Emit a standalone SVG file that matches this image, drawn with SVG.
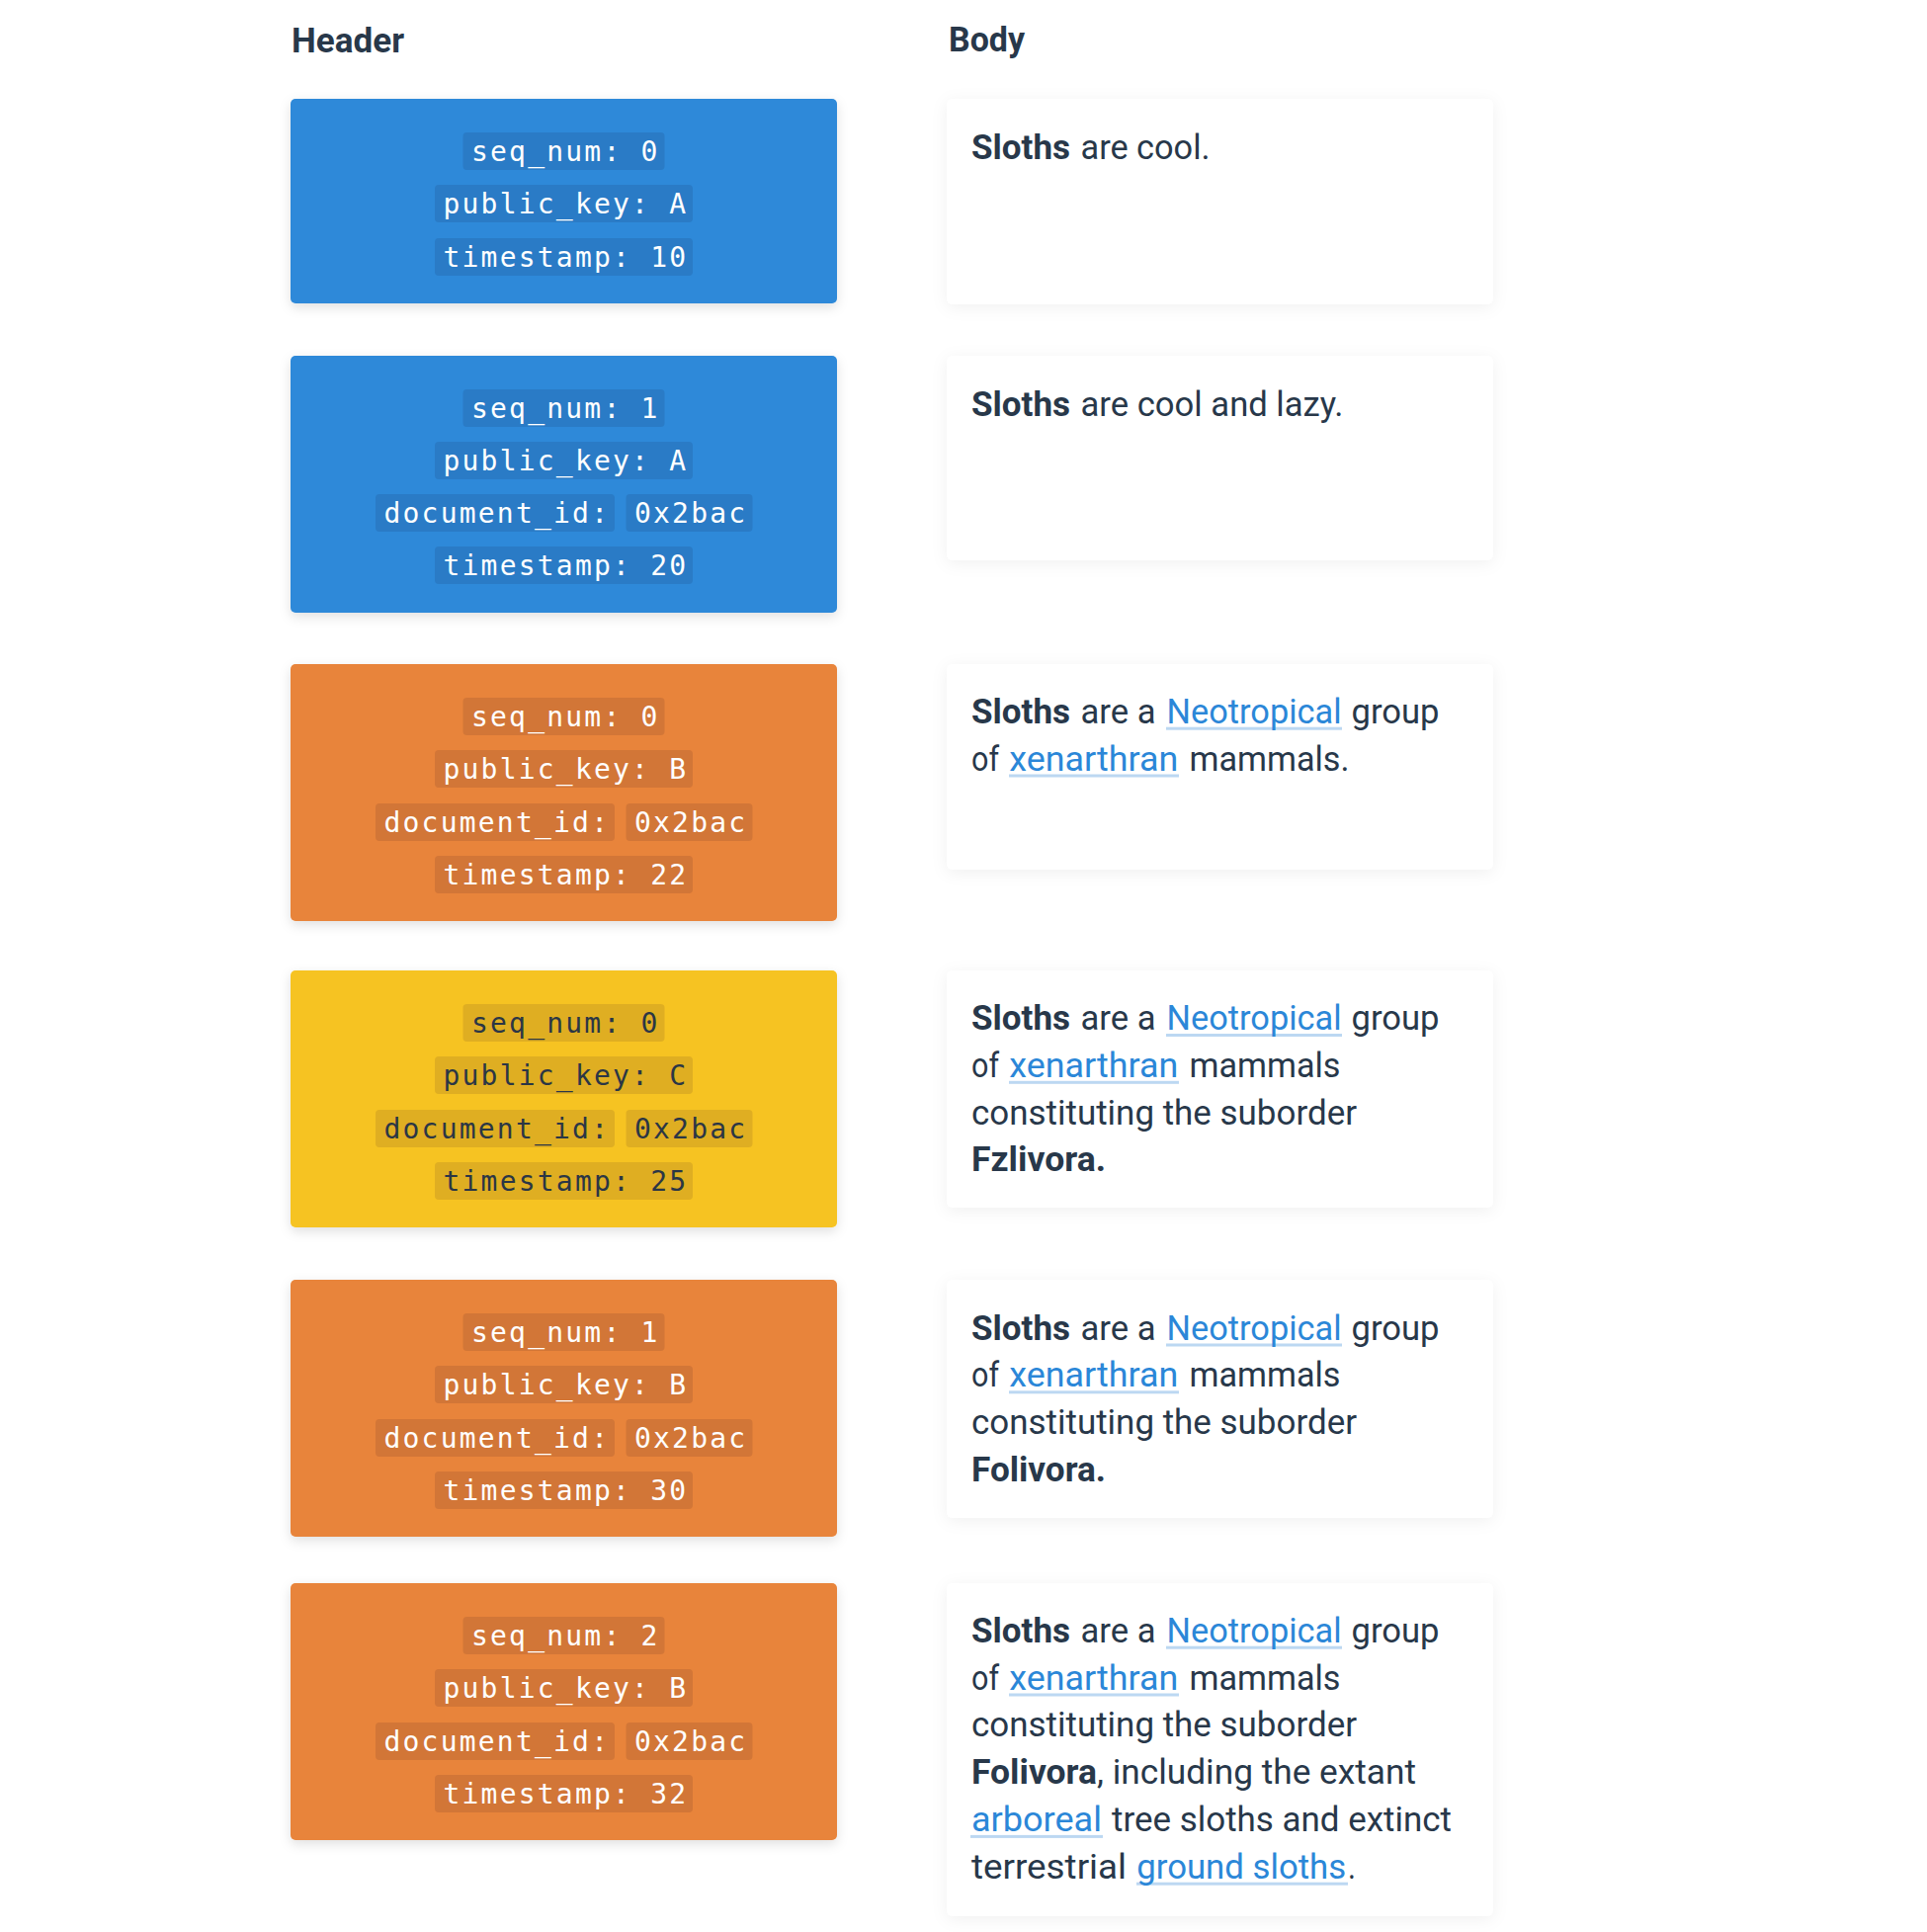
<svg xmlns="http://www.w3.org/2000/svg" width="1950" height="1955" viewBox="0 0 1950 1955">
<style>
.h{font-family:Roboto,"Liberation Sans",sans-serif;font-weight:700;font-size:35px;fill:#28384a}
.t{font-family:Roboto,"Liberation Sans",sans-serif;font-size:35px;fill:#28384a}
.b{font-weight:700}
.l{fill:#2b87d8}
.u{fill:#bcd8f2}
.m{font-family:"DejaVu Sans Mono","Liberation Mono",monospace;font-size:28px;letter-spacing:2.2px;fill:#ffffff}
.md{fill:#2b3645}
.blue{fill:#2d89d9}
.orange{fill:#e8843a}
.yellow{fill:#f6c324}
.pb{fill:#2a7bc6}
.po{fill:#d27637}
.py{fill:#dfae22}
.body{fill:#ffffff}
</style>
<defs>
<filter id="sh" x="-10%" y="-10%" width="120%" height="130%">
<feDropShadow dx="0" dy="4" stdDeviation="6" flood-color="#000" flood-opacity="0.12"/>
</filter>
<filter id="sb" x="-10%" y="-10%" width="120%" height="130%">
<feDropShadow dx="0" dy="3" stdDeviation="8" flood-color="#000" flood-opacity="0.06"/>
</filter>
</defs>
<rect width="1950" height="1955" fill="#ffffff"/>
<text class="h" x="295" y="52.7" textLength="114" lengthAdjust="spacingAndGlyphs">Header</text>
<text class="h" x="960" y="52" textLength="77" lengthAdjust="spacingAndGlyphs">Body</text>

<g id="header1">
<rect class="blue" x="294" y="100" width="553" height="207" rx="5" filter="url(#sh)"/>
<rect class="pb" x="468.5" y="134" width="204" height="38" rx="4"/><text class="m" x="477" y="162.5">seq_num: 0</text>
<rect class="pb" x="440" y="187" width="261" height="38" rx="4"/><text class="m" x="448.5" y="215.5">public_key: A</text>
<rect class="pb" x="440" y="241" width="261" height="38" rx="4"/><text class="m" x="448.5" y="269.5">timestamp: 10</text>
</g>
<g id="header2">
<rect class="blue" x="294" y="360" width="553" height="260" rx="5" filter="url(#sh)"/>
<rect class="pb" x="468.5" y="394" width="204" height="38" rx="4"/><text class="m" x="477" y="422.5">seq_num: 1</text>
<rect class="pb" x="440" y="447" width="261" height="38" rx="4"/><text class="m" x="448.5" y="475.5">public_key: A</text>
<rect class="pb" x="380" y="500" width="242" height="38" rx="4"/><text class="m" x="388.5" y="528.5">document_id:</text>
<rect class="pb" x="633.5" y="500" width="128" height="38" rx="4"/><text class="m" x="642" y="528.5">0x2bac</text>
<rect class="pb" x="440" y="553" width="261" height="38" rx="4"/><text class="m" x="448.5" y="581.5">timestamp: 20</text>
</g>
<g id="header3">
<rect class="orange" x="294" y="672" width="553" height="260" rx="5" filter="url(#sh)"/>
<rect class="po" x="468.5" y="706" width="204" height="38" rx="4"/><text class="m" x="477" y="734.5">seq_num: 0</text>
<rect class="po" x="440" y="759" width="261" height="38" rx="4"/><text class="m" x="448.5" y="787.5">public_key: B</text>
<rect class="po" x="380" y="813" width="242" height="38" rx="4"/><text class="m" x="388.5" y="841.5">document_id:</text>
<rect class="po" x="633.5" y="813" width="128" height="38" rx="4"/><text class="m" x="642" y="841.5">0x2bac</text>
<rect class="po" x="440" y="866" width="261" height="38" rx="4"/><text class="m" x="448.5" y="894.5">timestamp: 22</text>
</g>
<g id="header4">
<rect class="yellow" x="294" y="982" width="553" height="260" rx="5" filter="url(#sh)"/>
<rect class="py" x="468.5" y="1016" width="204" height="38" rx="4"/><text class="m md" x="477" y="1044.5">seq_num: 0</text>
<rect class="py" x="440" y="1069" width="261" height="38" rx="4"/><text class="m md" x="448.5" y="1097.5">public_key: C</text>
<rect class="py" x="380" y="1123" width="242" height="38" rx="4"/><text class="m md" x="388.5" y="1151.5">document_id:</text>
<rect class="py" x="633.5" y="1123" width="128" height="38" rx="4"/><text class="m md" x="642" y="1151.5">0x2bac</text>
<rect class="py" x="440" y="1176" width="261" height="38" rx="4"/><text class="m md" x="448.5" y="1204.5">timestamp: 25</text>
</g>
<g id="header5">
<rect class="orange" x="294" y="1295" width="553" height="260" rx="5" filter="url(#sh)"/>
<rect class="po" x="468.5" y="1329" width="204" height="38" rx="4"/><text class="m" x="477" y="1357.5">seq_num: 1</text>
<rect class="po" x="440" y="1382" width="261" height="38" rx="4"/><text class="m" x="448.5" y="1410.5">public_key: B</text>
<rect class="po" x="380" y="1436" width="242" height="38" rx="4"/><text class="m" x="388.5" y="1464.5">document_id:</text>
<rect class="po" x="633.5" y="1436" width="128" height="38" rx="4"/><text class="m" x="642" y="1464.5">0x2bac</text>
<rect class="po" x="440" y="1489" width="261" height="38" rx="4"/><text class="m" x="448.5" y="1517.5">timestamp: 30</text>
</g>
<g id="header6">
<rect class="orange" x="294" y="1602" width="553" height="260" rx="5" filter="url(#sh)"/>
<rect class="po" x="468.5" y="1636" width="204" height="38" rx="4"/><text class="m" x="477" y="1664.5">seq_num: 2</text>
<rect class="po" x="440" y="1689" width="261" height="38" rx="4"/><text class="m" x="448.5" y="1717.5">public_key: B</text>
<rect class="po" x="380" y="1743" width="242" height="38" rx="4"/><text class="m" x="388.5" y="1771.5">document_id:</text>
<rect class="po" x="633.5" y="1743" width="128" height="38" rx="4"/><text class="m" x="642" y="1771.5">0x2bac</text>
<rect class="po" x="440" y="1796" width="261" height="38" rx="4"/><text class="m" x="448.5" y="1824.5">timestamp: 32</text>
</g>

<g id="body1">
<rect class="body" x="958" y="100" width="553" height="208" rx="6" filter="url(#sb)"/>
<text class="t b" x="983" y="160.5" textLength="100" lengthAdjust="spacingAndGlyphs">Sloths</text>
<text class="t" x="1093.5" y="160.5" textLength="131" lengthAdjust="spacingAndGlyphs">are cool.</text>
</g>
<g id="body2">
<rect class="body" x="958" y="360" width="553" height="207" rx="6" filter="url(#sb)"/>
<text class="t b" x="983" y="420.7" textLength="100" lengthAdjust="spacingAndGlyphs">Sloths</text>
<text class="t" x="1093.5" y="420.7" textLength="266" lengthAdjust="spacingAndGlyphs">are cool and lazy.</text>
</g>
<g id="body3">
<rect class="body" x="958" y="672" width="553" height="208" rx="6" filter="url(#sb)"/>
<text class="t b" x="983" y="731.7" textLength="100" lengthAdjust="spacingAndGlyphs">Sloths</text>
<text class="t" x="1093.5" y="731.7" textLength="76" lengthAdjust="spacingAndGlyphs">are a</text>
<rect class="u" x="1180" y="735.7" width="178" height="3"/>
<text class="t l" x="1180.5" y="731.7" textLength="177" lengthAdjust="spacingAndGlyphs">Neotropical</text>
<text class="t" x="1367.5" y="731.7" textLength="89" lengthAdjust="spacingAndGlyphs">group</text>
<text class="t" x="983" y="779.5" textLength="28" lengthAdjust="spacingAndGlyphs">of</text>
<rect class="u" x="1021" y="783.5" width="172" height="3"/>
<text class="t l" x="1021.3" y="779.5" textLength="171" lengthAdjust="spacingAndGlyphs">xenarthran</text>
<text class="t" x="1203.5" y="779.5" textLength="162" lengthAdjust="spacingAndGlyphs">mammals.</text>
</g>
<g id="body4">
<rect class="body" x="958" y="982" width="553" height="240" rx="6" filter="url(#sb)"/>
<text class="t b" x="983" y="1042" textLength="100" lengthAdjust="spacingAndGlyphs">Sloths</text>
<text class="t" x="1093.5" y="1042" textLength="76" lengthAdjust="spacingAndGlyphs">are a</text>
<rect class="u" x="1180" y="1046" width="178" height="3"/>
<text class="t l" x="1180.5" y="1042" textLength="177" lengthAdjust="spacingAndGlyphs">Neotropical</text>
<text class="t" x="1367.5" y="1042" textLength="89" lengthAdjust="spacingAndGlyphs">group</text>
<text class="t" x="983" y="1089.8" textLength="28" lengthAdjust="spacingAndGlyphs">of</text>
<rect class="u" x="1021" y="1093.8" width="172" height="3"/>
<text class="t l" x="1021.3" y="1089.8" textLength="171" lengthAdjust="spacingAndGlyphs">xenarthran</text>
<text class="t" x="1203.5" y="1089.8" textLength="153" lengthAdjust="spacingAndGlyphs">mammals</text>
<text class="t" x="983" y="1137.6" textLength="390" lengthAdjust="spacingAndGlyphs">constituting the suborder</text>
<text class="t b" x="983" y="1185.4" textLength="136" lengthAdjust="spacingAndGlyphs">Fzlivora.</text>
</g>
<g id="body5">
<rect class="body" x="958" y="1295" width="553" height="241" rx="6" filter="url(#sb)"/>
<text class="t b" x="983" y="1355.5" textLength="100" lengthAdjust="spacingAndGlyphs">Sloths</text>
<text class="t" x="1093.5" y="1355.5" textLength="76" lengthAdjust="spacingAndGlyphs">are a</text>
<rect class="u" x="1180" y="1359.5" width="178" height="3"/>
<text class="t l" x="1180.5" y="1355.5" textLength="177" lengthAdjust="spacingAndGlyphs">Neotropical</text>
<text class="t" x="1367.5" y="1355.5" textLength="89" lengthAdjust="spacingAndGlyphs">group</text>
<text class="t" x="983" y="1403.3" textLength="28" lengthAdjust="spacingAndGlyphs">of</text>
<rect class="u" x="1021" y="1407.3" width="172" height="3"/>
<text class="t l" x="1021.3" y="1403.3" textLength="171" lengthAdjust="spacingAndGlyphs">xenarthran</text>
<text class="t" x="1203.5" y="1403.3" textLength="153" lengthAdjust="spacingAndGlyphs">mammals</text>
<text class="t" x="983" y="1451.1" textLength="390" lengthAdjust="spacingAndGlyphs">constituting the suborder</text>
<text class="t b" x="983" y="1498.9" textLength="136" lengthAdjust="spacingAndGlyphs">Folivora.</text>
</g>
<g id="body6">
<rect class="body" x="958" y="1602" width="553" height="337" rx="6" filter="url(#sb)"/>
<text class="t b" x="983" y="1661.7" textLength="100" lengthAdjust="spacingAndGlyphs">Sloths</text>
<text class="t" x="1093.5" y="1661.7" textLength="76" lengthAdjust="spacingAndGlyphs">are a</text>
<rect class="u" x="1180" y="1665.7" width="178" height="3"/>
<text class="t l" x="1180.5" y="1661.7" textLength="177" lengthAdjust="spacingAndGlyphs">Neotropical</text>
<text class="t" x="1367.5" y="1661.7" textLength="89" lengthAdjust="spacingAndGlyphs">group</text>
<text class="t" x="983" y="1709.5" textLength="28" lengthAdjust="spacingAndGlyphs">of</text>
<rect class="u" x="1021" y="1713.5" width="172" height="3"/>
<text class="t l" x="1021.3" y="1709.5" textLength="171" lengthAdjust="spacingAndGlyphs">xenarthran</text>
<text class="t" x="1203.5" y="1709.5" textLength="153" lengthAdjust="spacingAndGlyphs">mammals</text>
<text class="t" x="983" y="1757.3" textLength="390" lengthAdjust="spacingAndGlyphs">constituting the suborder</text>
<text class="t b" x="983" y="1805.1" textLength="127" lengthAdjust="spacingAndGlyphs">Folivora</text>
<text class="t" x="1110" y="1805.1" textLength="323" lengthAdjust="spacingAndGlyphs">, including the extant</text>
<rect class="u" x="982" y="1856.9" width="134" height="3"/>
<text class="t l" x="983" y="1852.9" textLength="132" lengthAdjust="spacingAndGlyphs">arboreal</text>
<text class="t" x="1125" y="1852.9" textLength="344" lengthAdjust="spacingAndGlyphs">tree sloths and extinct</text>
<text class="t" x="983" y="1900.7" textLength="157" lengthAdjust="spacingAndGlyphs">terrestrial</text>
<rect class="u" x="1150" y="1904.7" width="214" height="3"/>
<text class="t l" x="1150.2" y="1900.7" textLength="212" lengthAdjust="spacingAndGlyphs">ground sloths</text>
<text class="t" x="1364" y="1900.7" textLength="8" lengthAdjust="spacingAndGlyphs">.</text>
</g>
</svg>
